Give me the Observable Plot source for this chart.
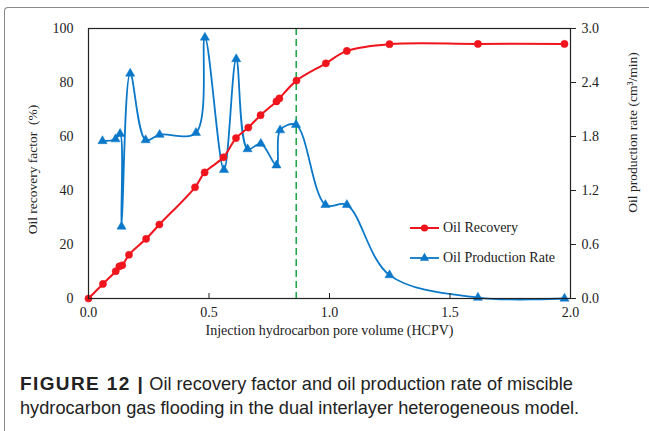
<!DOCTYPE html>
<html>
<head>
<meta charset="utf-8">
<script src="https://cdn.jsdelivr.net/npm/d3@7"></script>
<script src="https://cdn.jsdelivr.net/npm/@observablehq/plot@0.6"></script>
<style>
  html, body { margin: 0; padding: 0; background: #fff; }
  body { width: 649px; height: 431px; position: relative; overflow: hidden; }
  #box { position: absolute; left: 4px; top: 7px; width: 700px; height: 500px;
         border-left: 1.5px solid #8a8a8a; border-top: 1.5px solid #8a8a8a; border-top-left-radius: 4px; }
  #chart { position: absolute; left: 0; top: 0; }
  #legend { position: absolute; left: 410px; top: 213px; font-family: "Liberation Serif", "Times New Roman", serif; font-size: 14px; color: #222; }
  #legend .row { height: 30px; display: flex; align-items: center; white-space: nowrap; }
  #legend span { font-family: "Liberation Serif", "Times New Roman", serif; }
  #legend svg { margin-right: 3px; }
  #caption { position: absolute; left: 20px; top: 372px; font-family: "Liberation Sans", Arial, sans-serif;
             font-size: 18.2px; line-height: 24px; color: #222; white-space: nowrap; }
  #caption b { font-weight: bold; font-size: 19px; letter-spacing: 1.4px; }
</style>
</head>
<body>
<div id="box"></div>
<div id="chart"></div>
<div id="legend"></div>
<div id="caption"><b>FIGURE 12 |</b> Oil recovery factor and oil production rate of miscible<br>hydrocarbon gas flooding in the dual interlayer heterogeneous model.</div>
<script>
// ---- Data ----
const hcpvRecovery = [0, 0.06, 0.113, 0.128, 0.14, 0.168, 0.239, 0.294, 0.442, 0.482, 0.56, 0.612, 0.663, 0.714, 0.78, 0.792, 0.863, 0.985, 1.072, 1.249, 1.616, 1.975];
const recoveryFactor = [0, 5.4, 10.1, 11.9, 12.3, 16.2, 22.1, 27.4, 41.2, 46.7, 52.3, 59.4, 63.3, 67.9, 73.0, 74.1, 80.7, 87.1, 91.7, 94.2, 94.3, 94.3];
const hcpvRate = [0.058, 0.112, 0.131, 0.137, 0.173, 0.237, 0.295, 0.446, 0.483, 0.562, 0.613, 0.66, 0.715, 0.78, 0.795, 0.861, 0.983, 1.072, 1.249, 1.616, 1.975];
const productionRate = [1.75, 1.77, 1.83, 0.80, 2.50, 1.76, 1.82, 1.84, 2.90, 1.43, 2.66, 1.66, 1.72, 1.48, 1.87, 1.93, 1.04, 1.04, 0.26, 0.01, 0];
const breakthroughHCPV = [0.862];
const xTicks = [0, 0.5, 1.0, 1.5, 2.0];
const leftTicks = [0, 20, 40, 60, 80, 100];
const rightTicks = [0, 0.6, 1.2, 1.8, 2.4, 3.0];
const seriesNames = ["Oil Recovery", "Oil Production Rate"];
const xTitle = "Injection hydrocarbon pore volume (HCPV)";
const leftTitle = "Oil recovery factor  (%)";
const rightTitle = "Oil production rate (cm³/min)";

const leftMax = 100, rightMax = 3.0;
const toLeft = r => r / rightMax * leftMax; // map right-axis values onto the left scale

const RED = "#f0141c", BLUE = "#0b78c9", GREEN = "#22a84a";

const recData = hcpvRecovery.map((x, i) => ({x, y: recoveryFactor[i]}));
const rateData = hcpvRate.map((x, i) => ({x, y: toLeft(productionRate[i])}));

const chart = Plot.plot({
  width: 649,
  height: 350,
  marginTop: 28,
  marginLeft: 88,
  marginRight: 79,
  marginBottom: 52,
  style: {fontFamily: "'Liberation Serif', 'Times New Roman', serif", fontSize: "14px", color: "#222", background: "transparent"},
  x: {domain: [0, 2], label: null},
  y: {domain: [0, leftMax], label: null},
  marks: [
    Plot.ruleX(breakthroughHCPV, {stroke: GREEN, strokeWidth: 1.6, strokeDasharray: "7,4"}),
    Plot.line(rateData, {x: "x", y: "y", stroke: BLUE, strokeWidth: 1.8, curve: "catmull-rom"}),
    Plot.dot(rateData, {x: "x", y: "y", symbol: "triangle", r: 3.4, fill: BLUE, stroke: BLUE, strokeWidth: 0.5}),
    Plot.line(recData, {x: "x", y: "y", stroke: RED, strokeWidth: 2, curve: "catmull-rom"}),
    Plot.dot(recData, {x: "x", y: "y", r: 3.6, fill: RED, stroke: RED, strokeWidth: 0.5}),
    Plot.frame({stroke: "#222", strokeWidth: 1.2}),
    Plot.tickX(xTicks, {x: d => d, stroke: "#222", strokeWidth: 1, insetTop: 265}),
    Plot.axisX({ticks: xTicks, tickSize: 0, tickPadding: 9, tickFormat: d => d.toFixed(1), label: null}),
    Plot.axisY({ticks: leftTicks, tickSize: 0, tickPadding: 15, label: null}),
    Plot.axisY({anchor: "right", ticks: rightTicks.map(toLeft), tickSize: 5, tickPadding: 6,
                tickFormat: d => (d / leftMax * rightMax).toFixed(1), label: null}),
    Plot.text([xTitle], {frameAnchor: "bottom", dy: 36, fontSize: 14, fill: "#222"}),
    Plot.text([leftTitle], {frameAnchor: "left", textAnchor: "middle", dx: -56, dy: 6, rotate: -90, fontSize: 13.5, fill: "#222"}),
    Plot.text([rightTitle], {frameAnchor: "right", textAnchor: "middle", dx: 62, dy: -31, rotate: -90, fontSize: 13.5, fill: "#222"})
  ]
});
document.getElementById("chart").appendChild(chart);

// Legend
const legend = document.getElementById("legend");
const sym = [
  `<svg width="30" height="12"><line x1="0" y1="6" x2="29" y2="6" stroke="${RED}" stroke-width="2"/><circle cx="14.5" cy="6" r="3.6" fill="${RED}"/></svg>`,
  `<svg width="30" height="12"><line x1="0" y1="6" x2="29" y2="6" stroke="${BLUE}" stroke-width="1.8"/><path d="${d3.symbol(d3.symbolTriangle, Math.PI*3.4*3.4)()}" transform="translate(14.5,6)" fill="${BLUE}"/></svg>`
];
seriesNames.forEach((name, i) => {
  const row = document.createElement("div");
  row.className = "row";
  row.innerHTML = sym[i] + `<span>${name}</span>`;
  legend.appendChild(row);
});
</script>
</body>
</html>
